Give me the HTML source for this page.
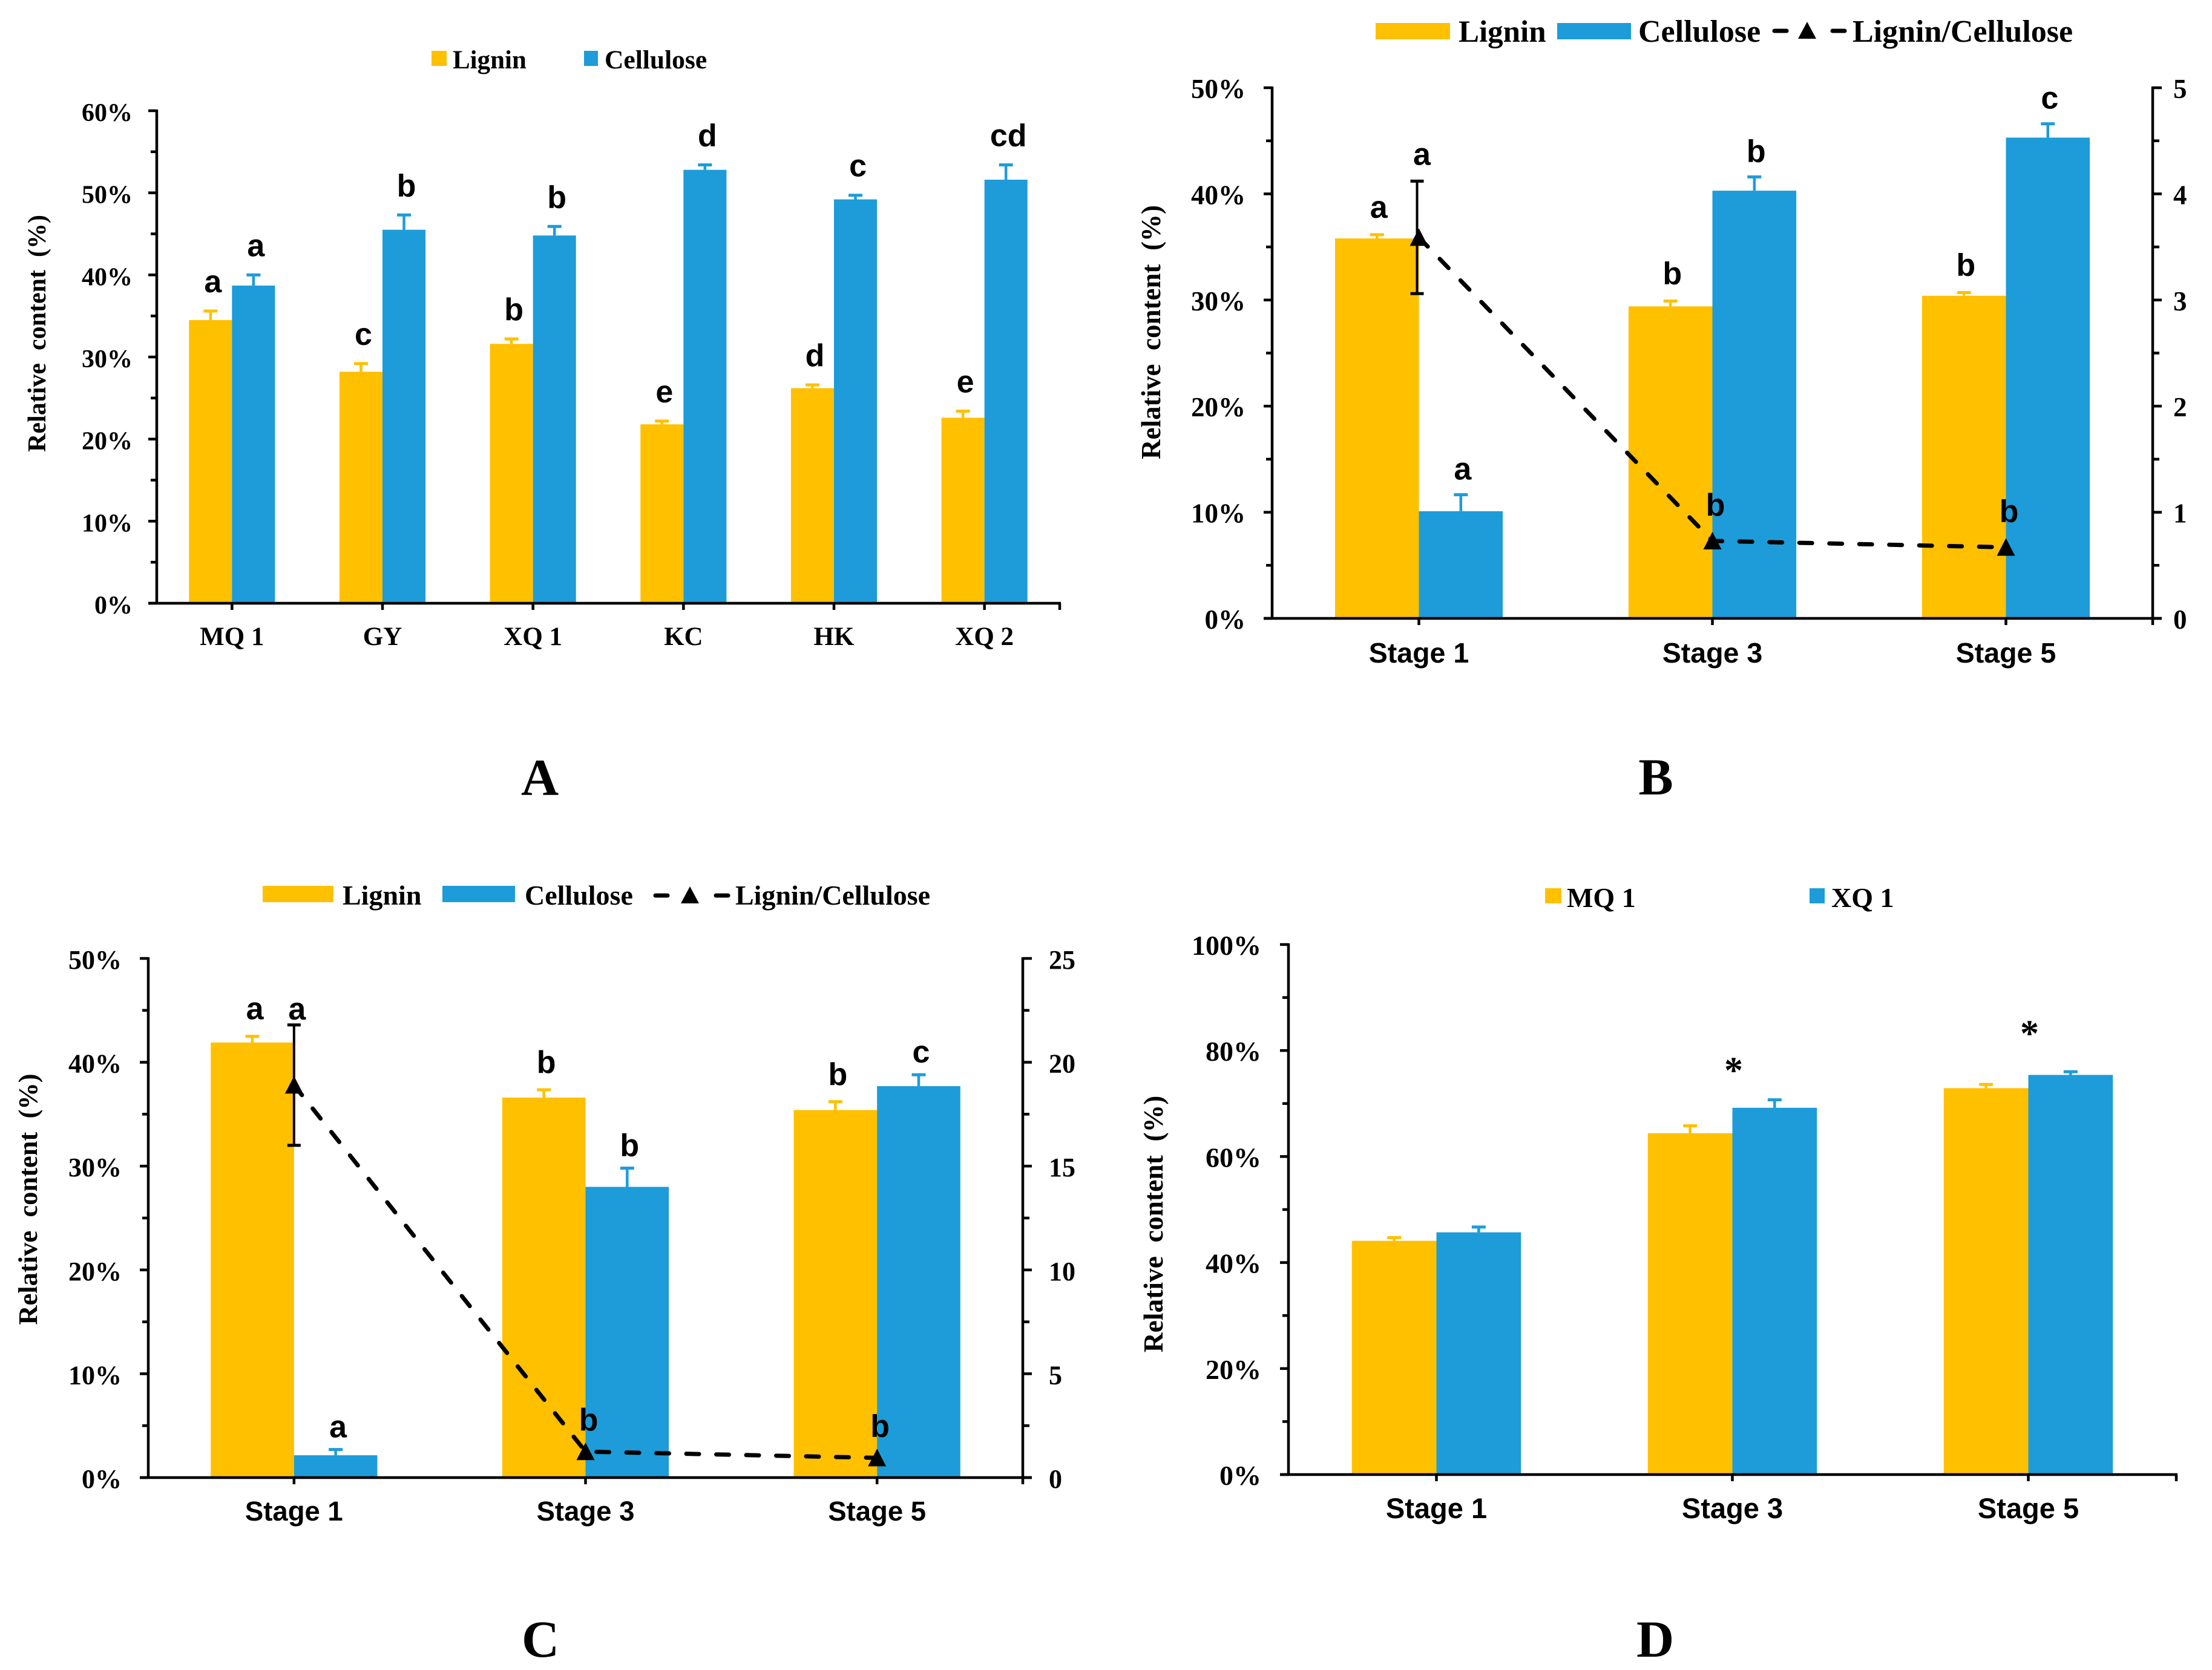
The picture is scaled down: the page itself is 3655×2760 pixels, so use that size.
<!DOCTYPE html>
<html>
<head>
<meta charset="utf-8">
<title>Lignin and cellulose relative content</title>
<style>
html,body{margin:0;padding:0;background:#fff;}
svg{display:block;}
.serif{font-family:"Liberation Serif",serif;font-weight:bold;fill:#000;}
.sans{font-family:"Liberation Sans",sans-serif;font-weight:bold;fill:#000;}
</style>
</head>
<body>
<svg id="fig" xmlns="http://www.w3.org/2000/svg" width="3655" height="2760" viewBox="0 0 3655 2760">
<rect x="0" y="0" width="3655" height="2760" fill="#fff"/>

<g id="panel-a"></g>
<g id="panel-b"></g>
<g id="panel-c"></g>
<g id="panel-d"></g>

<g>
  <g><rect x="713" y="84" width="25" height="25" fill="#FFC000"/><text class="serif" x="748" y="113" font-size="43">Lignin</text></g>
  <g><rect x="965" y="84" width="23" height="25" fill="#1D9CD9"/><text class="serif" x="999" y="113" font-size="43.5">Cellulose</text></g>
</g>
<g>
  <g><rect x="2273" y="38" width="123" height="27" fill="#FFC000"/><text class="serif" x="2410" y="69" font-size="51">Lignin</text></g>
  <g><rect x="2573" y="38" width="122" height="27" fill="#1D9CD9"/><text class="serif" x="2707" y="69" font-size="52">Cellulose</text></g>
  <g><line x1="2932" y1="51" x2="3048" y2="51" stroke="#000" stroke-width="7" stroke-linecap="round" stroke-dasharray="20 76"/><polygon points="2986,36 2971,64 3001,64" fill="#000"/><text class="serif" x="3061" y="69" font-size="52">Lignin/Cellulose</text></g>
</g>
<g>
  <g><rect x="434" y="1464" width="117" height="27" fill="#FFC000"/><text class="serif" x="566" y="1495" font-size="46">Lignin</text></g>
  <g><rect x="731" y="1464" width="120" height="27" fill="#1D9CD9"/><text class="serif" x="867" y="1495" font-size="46">Cellulose</text></g>
  <g><line x1="1083" y1="1480" x2="1203" y2="1480" stroke="#000" stroke-width="7" stroke-linecap="round" stroke-dasharray="20 80"/><polygon points="1140,1465 1125,1493 1155,1493" fill="#000"/><text class="serif" x="1215" y="1495" font-size="46">Lignin/Cellulose</text></g>
</g>
<g>
  <g><rect x="2553" y="1468" width="27" height="25" fill="#FFC000"/><text class="serif" x="2589" y="1499" font-size="46">MQ 1</text></g>
  <g><rect x="2990" y="1468" width="25" height="25" fill="#1D9CD9"/><text class="serif" x="3026" y="1499" font-size="46">XQ 1</text></g>
</g>

<text class="serif" x="892" y="1314" font-size="86" text-anchor="middle">A</text>
<text class="serif" x="2736" y="1313" font-size="86" text-anchor="middle">B</text>
<text class="serif" x="893" y="2738" font-size="86" text-anchor="middle">C</text>
<text class="serif" x="2735" y="2738" font-size="86" text-anchor="middle">D</text>
</svg>

<script>
// ----- Panel A data -----
const aCategories = ['MQ 1', 'GY', 'XQ 1', 'KC', 'HK', 'XQ 2'];
const aLignin = [34.5, 28.2, 31.6, 21.8, 26.2, 22.6];
const aLigninErr = [1.1, 1.0, 0.6, 0.4, 0.4, 0.8];
const aCellulose = [38.7, 45.5, 44.8, 52.8, 49.2, 51.6];
const aCelluloseErr = [1.3, 1.8, 1.1, 0.6, 0.5, 1.8];
const aLigninLetters = ['a', 'c', 'b', 'e', 'd', 'e'];
const aCelluloseLetters = ['a', 'b', 'b', 'd', 'c', 'cd'];
const aYTicks = ['0%', '10%', '20%', '30%', '40%', '50%', '60%'];

// ----- Panel B data -----
const bCategories = ['Stage 1', 'Stage 3', 'Stage 5'];
const bLignin = [35.8, 29.4, 30.4];
const bLigninErr = [0.35, 0.5, 0.3];
const bCellulose = [10.1, 40.3, 45.3];
const bCelluloseErr = [1.55, 1.3, 1.3];
const bRatio = [3.59, 0.73, 0.67];
const bRatioErr = [0.53, 0, 0];
const bLigninLetters = ['a', 'b', 'b'];
const bCelluloseLetters = ['a', 'b', 'c'];
const bRatioLetters = ['a', 'b', 'b'];
const bYTicks = ['0%', '10%', '20%', '30%', '40%', '50%'];
const bY2Ticks = ['0', '1', '2', '3', '4', '5'];

// ----- Panel C data -----
const cCategories = ['Stage 1', 'Stage 3', 'Stage 5'];
const cLignin = [41.9, 36.6, 35.4];
const cLigninErr = [0.6, 0.75, 0.8];
const cCellulose = [2.15, 28.0, 37.7];
const cCelluloseErr = [0.55, 1.8, 1.1];
const cRatio = [18.9, 1.25, 0.95];
const cRatioErr = [2.9, 0, 0];
const cLigninLetters = ['a', 'b', 'b'];
const cCelluloseLetters = ['a', 'b', 'c'];
const cRatioLetters = ['a', 'b', 'b'];
const cYTicks = ['0%', '10%', '20%', '30%', '40%', '50%'];
const cY2Ticks = ['0', '5', '10', '15', '20', '25'];

// ----- Panel D data -----
const dCategories = ['Stage 1', 'Stage 3', 'Stage 5'];
const dMQ1 = [44.1, 64.4, 72.9];
const dMQ1Err = [0.6, 1.4, 0.7];
const dXQ1 = [45.7, 69.2, 75.4];
const dXQ1Err = [1.0, 1.5, 0.6];
const dStars = ['', '*', '*'];
const dStarLevels = [0, 73.9, 80.9];
const dYTicks = ['0%', '20%', '40%', '60%', '80%', '100%'];

const NS = 'http://www.w3.org/2000/svg';
const COL_A = '#FFC000';
const COL_B = '#1D9CD9';

function mk(parent, tag, attrs, name, txt) {
  const el = document.createElementNS(NS, tag);
  for (const k in attrs) el.setAttribute(k, attrs[k]);
  
  
  if (txt !== undefined) el.textContent = txt;
  parent.appendChild(el);
  return el;
}

function drawChart(c) {
  const g = document.getElementById(c.id);
  const plotH = c.y0 - c.yTop;
  const y = v => c.y0 - v / c.yMax * plotH;
  const y2 = v => c.y0 - v / c.y2Max * plotH;
  const n = c.categories.length;
  const catW = (c.xRight - c.xLeft) / n;
  const xc = i => c.xLeft + catW * (i + 0.5);
  const barW = catW * 2 / 7;

  // bars and their error bars
  c.series.forEach((s, si) => {
    s.values.forEach((v, i) => {
      const bx = si === 0 ? xc(i) - barW : xc(i);
      mk(g, 'rect', {x: bx, y: y(v), width: barW, height: c.y0 - y(v), fill: s.color}, 'bar-' + s.key + '-' + i);
      const mid = bx + barW / 2;
      const top = y(v + s.err[i]);
      mk(g, 'line', {x1: mid, y1: y(v), x2: mid, y2: top, stroke: s.color, 'stroke-width': 4.5}, 'error-bar-' + s.key + '-' + i);
      mk(g, 'line', {x1: mid - 11.5, y1: top, x2: mid + 11.5, y2: top, stroke: s.color, 'stroke-width': 5}, 'error-cap-' + s.key + '-' + i);
      if (s.letters) {
        mk(g, 'text', {x: mid + c.letterDx, y: top - s.letterGap, 'font-size': 52, 'text-anchor': 'middle', 'class': 'sans'}, 'significance-' + s.key + '-' + i, s.letters[i]);
      }
    });
  });

  // y axis
  const axisStroke = {stroke: '#000', 'stroke-width': 4.5};
  mk(g, 'line', Object.assign({x1: c.xLeft, y1: c.yTop - 2, x2: c.xLeft, y2: c.y0 + 2}, axisStroke), 'y-axis-line');
  const majorCount = c.yTicks.length;
  const minorCount = (majorCount - 1) * 2;
  for (let i = 0; i <= minorCount; i++) {
    const yy = c.y0 - i / minorCount * plotH;
    const major = i % 2 === 0;
    mk(g, 'line', Object.assign({x1: c.xLeft - (major ? 14 : 10), y1: yy, x2: c.xLeft, y2: yy}, axisStroke), major ? 'y-tick-major' : 'y-tick-minor');
  }
  c.yTicks.forEach((t, i) => {
    const yy = c.y0 - i / (majorCount - 1) * plotH;
    mk(g, 'text', {x: c.tickRight, y: yy + 17, 'font-size': c.tickFont, 'text-anchor': 'end', 'class': 'serif'}, 'y-tick-label', t);
  });

  // x axis
  mk(g, 'line', Object.assign({x1: c.xLeft - 14, y1: c.y0, x2: c.xRight + (c.ratio ? 15 : 2), y2: c.y0}, axisStroke), 'x-axis-line');
  c.categories.forEach((t, i) => {
    mk(g, 'line', Object.assign({x1: xc(i), y1: c.y0, x2: xc(i), y2: c.y0 + 11}, axisStroke), 'x-tick');
    mk(g, 'text', {x: xc(i), y: c.catBase, 'font-size': c.catFont, 'text-anchor': 'middle', 'class': c.catClass}, 'x-tick-label', t);
  });
  mk(g, 'line', Object.assign({x1: c.xRight, y1: c.y0, x2: c.xRight, y2: c.y0 + 11}, axisStroke), 'x-tick-end');

  // y title
  const tt = 'Relative\u00a0\u00a0content\u00a0\u00a0(%)';
  mk(g, 'text', {x: 0, y: 0, 'font-size': c.titleFont, 'text-anchor': 'middle', 'class': 'serif', transform: 'translate(' + c.titleX + ' ' + c.titleY + ') rotate(-90)'}, 'y-axis-title', tt);

  // secondary axis and ratio line
  if (c.ratio) {
    mk(g, 'line', Object.assign({x1: c.xRight, y1: c.yTop - 2, x2: c.xRight, y2: c.y0 + 2}, axisStroke), 'y2-axis-line');
    const m2 = c.y2Ticks.length;
    const minor2 = (m2 - 1) * 2;
    for (let i = 0; i <= minor2; i++) {
      const yy = c.y0 - i / minor2 * plotH;
      const major = i % 2 === 0;
      mk(g, 'line', Object.assign({x1: c.xRight, y1: yy, x2: c.xRight + (major ? 15 : 11), y2: yy}, axisStroke), major ? 'y2-tick-major' : 'y2-tick-minor');
    }
    c.y2Ticks.forEach((t, i) => {
      const yy = c.y0 - i / (m2 - 1) * plotH;
      mk(g, 'text', {x: c.y2LabelX, y: yy + 17, 'font-size': c.tickFont, 'class': 'serif'}, 'y2-tick-label', t);
    });
    const pts = c.ratio.map((v, i) => xc(i) + ',' + y2(v)).join(' ');
    mk(g, 'polyline', {points: pts, fill: 'none', stroke: '#000', 'stroke-width': 7, 'stroke-linecap': 'round', 'stroke-dasharray': '21 28.5'}, 'ratio-line');
    c.ratio.forEach((v, i) => {
      const x = xc(i), yy = y2(v);
      const e = c.ratioErr[i];
      if (e > 0) {
        const ex = x + c.ratioErrDx;
        mk(g, 'line', {x1: ex, y1: y2(v + e), x2: ex, y2: y2(v - e), stroke: '#000', 'stroke-width': 4}, 'ratio-error-bar');
        mk(g, 'line', {x1: ex - 11, y1: y2(v + e), x2: ex + 11, y2: y2(v + e), stroke: '#000', 'stroke-width': 5}, 'ratio-error-cap-top');
        mk(g, 'line', {x1: ex - 11, y1: y2(v - e), x2: ex + 11, y2: y2(v - e), stroke: '#000', 'stroke-width': 5}, 'ratio-error-cap-bottom');
      }
      mk(g, 'polygon', {points: x + ',' + (yy - 15) + ' ' + (x - 15) + ',' + (yy + 14) + ' ' + (x + 15) + ',' + (yy + 14), fill: '#000'}, 'ratio-point-' + i);
      const ly = e > 0 ? y2(v + e) - c.ratioLetterGapErr : yy - c.ratioLetterGap;
      mk(g, 'text', {x: x + 5, y: ly, 'font-size': 52, 'text-anchor': 'middle', 'class': 'sans'}, 'significance-ratio-' + i, c.ratioLetters[i]);
    });
  }

  // stars
  if (c.stars) {
    c.stars.forEach((s, i) => {
      if (s) mk(g, 'text', {x: xc(i) + 2, y: y(c.starLevels[i]), 'font-size': 62, 'text-anchor': 'middle', 'class': 'serif'}, 'significance-star-' + i, s);
    });
  }
}

drawChart({
  id: 'panel-a', xLeft: 259, xRight: 1751, yTop: 183, y0: 997, yMax: 60,
  categories: aCategories, yTicks: aYTicks,
  series: [
    {key: 'lignin', values: aLignin, err: aLigninErr, color: COL_A, letters: aLigninLetters, letterGap: 31},
    {key: 'cellulose', values: aCellulose, err: aCelluloseErr, color: COL_B, letters: aCelluloseLetters, letterGap: 31}
  ],
  letterDx: 4, tickRight: 219, tickFont: 42,
  catBase: 1066, catFont: 43, catClass: 'serif',
  titleX: 75, titleY: 551, titleFont: 42
});
drawChart({
  id: 'panel-b', xLeft: 2102, xRight: 3557, yTop: 145, y0: 1022, yMax: 50,
  categories: bCategories, yTicks: bYTicks,
  series: [
    {key: 'lignin', values: bLignin, err: bLigninErr, color: COL_A, letters: bLigninLetters, letterGap: 28},
    {key: 'cellulose', values: bCellulose, err: bCelluloseErr, color: COL_B, letters: bCelluloseLetters, letterGap: 25}
  ],
  letterDx: 3, tickRight: 2058, tickFont: 45,
  catBase: 1095, catFont: 46.5, catClass: 'sans',
  titleX: 1917, titleY: 549, titleFont: 45,
  ratio: bRatio, ratioErr: bRatioErr, ratioLetters: bRatioLetters, y2Max: 5, y2Ticks: bY2Ticks,
  y2LabelX: 3591, ratioLetterGap: 42, ratioLetterGapErr: 27, ratioErrDx: -3
});
drawChart({
  id: 'panel-c', xLeft: 245, xRight: 1690, yTop: 1584, y0: 2442, yMax: 50,
  categories: cCategories, yTicks: cYTicks,
  series: [
    {key: 'lignin', values: cLignin, err: cLigninErr, color: COL_A, letters: cLigninLetters, letterGap: 28},
    {key: 'cellulose', values: cCellulose, err: cCelluloseErr, color: COL_B, letters: cCelluloseLetters, letterGap: 20}
  ],
  letterDx: 4, tickRight: 201, tickFont: 44,
  catBase: 2513, catFont: 45.5, catClass: 'sans',
  titleX: 61, titleY: 1982, titleFont: 44.5,
  ratio: cRatio, ratioErr: cRatioErr, ratioLetters: cRatioLetters, y2Max: 25, y2Ticks: cY2Ticks,
  y2LabelX: 1733, ratioLetterGap: 35, ratioLetterGapErr: 9, ratioErrDx: 0
});
drawChart({
  id: 'panel-d', xLeft: 2129, xRight: 3596, yTop: 1561, y0: 2437, yMax: 100,
  categories: dCategories, yTicks: dYTicks,
  series: [
    {key: 'mq1', values: dMQ1, err: dMQ1Err, color: COL_A},
    {key: 'xq1', values: dXQ1, err: dXQ1Err, color: COL_B}
  ],
  letterDx: 0, tickRight: 2084, tickFont: 46,
  catBase: 2509, catFont: 47, catClass: 'sans',
  titleX: 1921, titleY: 2023, titleFont: 45.5,
  stars: dStars, starLevels: dStarLevels
});
</script>
</body>
</html>
